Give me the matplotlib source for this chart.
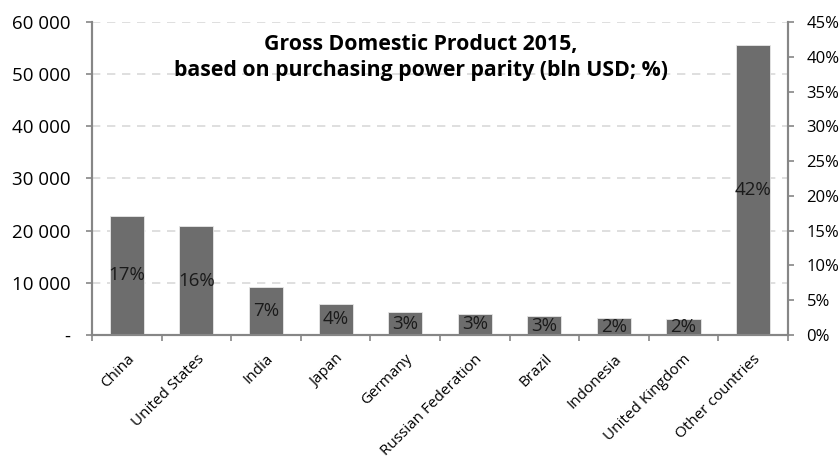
import numpy as np
import matplotlib
matplotlib.use("Agg")
import matplotlib.pyplot as plt
from matplotlib.ticker import FuncFormatter, MultipleLocator

plt.rcParams['font.family'] = ['Open Sans', 'DejaVu Sans']

countries = ["China", "United States", "India", "Japan", "Germany",
             "Russian Federation", "Brazil", "Indonesia", "United Kingdom",
             "Other countries"]
gdp = [22900, 20850, 9250, 6000, 4380, 4070, 3600, 3200, 2970, 55600]
share_labels = ["17%", "16%", "7%", "4%", "3%", "3%", "3%", "2%", "2%", "42%"]
left_ticks = [0, 10000, 20000, 30000, 40000, 50000, 60000]
right_ticks = [0, 5, 10, 15, 20, 25, 30, 35, 40, 45]

axis_grey = "#868686"
bar_grey = "#6d6d6d"

fig = plt.figure(figsize=(8.39, 4.57), dpi=100)
ax = fig.add_axes([0.1097, 0.267, 0.8293, 0.685])

x = np.arange(len(countries))
bars = ax.bar(x, gdp, width=0.49, color=bar_grey, edgecolor="#e8e8e8",
              linewidth=0.6, zorder=3)
for b, lab in zip(bars, share_labels):
    ax.text(b.get_x() + b.get_width() / 2, b.get_height() / 2, lab,
            ha="center", va="center", fontsize=13.5, color="#1a1a1a", zorder=4)

ax.set_xlim(-0.5, len(countries) - 0.5)
ax.set_ylim(0, 60000)
ax.set_yticks(left_ticks)
ax.yaxis.set_major_formatter(FuncFormatter(
    lambda v, p: "-" if v == 0 else f"{int(v):,}".replace(",", " ")))
ax.yaxis.grid(True, color="#d9d9d9", linestyle=(0, (5, 4)), linewidth=1.2,
              zorder=0)
ax.set_axisbelow(True)

ax.set_xticks(x)
ax.set_xticklabels(countries, rotation=45, ha="right", va="top",
                   rotation_mode="anchor", fontsize=11)
ax.tick_params(axis="x", which="major", length=0, pad=12)
ax.xaxis.set_minor_locator(MultipleLocator(1, offset=0.5))
ax.tick_params(axis="x", which="minor", length=4, color=axis_grey, width=1.2)
ax.tick_params(axis="y", length=4.5, color=axis_grey, width=1.2,
               labelsize=13.5, pad=11)

ax.spines["top"].set_visible(False)
for s in ["left", "bottom", "right"]:
    ax.spines[s].set_color(axis_grey)
    ax.spines[s].set_linewidth(1.5)

ax2 = ax.twinx()
ax2.set_ylim(0, 45)
ax2.set_yticks(right_ticks)
ax2.yaxis.set_major_formatter(FuncFormatter(lambda v, p: f"{int(v)}%"))
ax2.tick_params(axis="y", length=4.5, color=axis_grey, width=1.2,
                labelsize=12, pad=9)
ax2.spines["top"].set_visible(False)
for s in ["left", "bottom", "right"]:
    ax2.spines[s].set_color(axis_grey)
    ax2.spines[s].set_linewidth(1.5)

ax.text(0.473, 0.962, "Gross Domestic Product 2015,\nbased on purchasing power parity (bln USD; %)",
        transform=ax.transAxes, ha="center", va="top", fontsize=15.3,
        fontweight="bold", linespacing=1.3, zorder=5)

fig.savefig("out.png", dpi=100)
